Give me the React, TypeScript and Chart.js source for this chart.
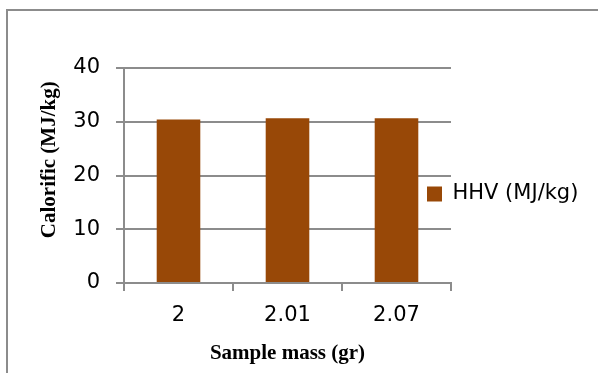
import React, { useEffect, useRef } from "react";
import { Chart, registerables } from "chart.js";

Chart.register(...registerables);

const categories = ["2", "2.01", "2.07"];
const hhvValues = [30.42, 30.66, 30.65];
const seriesLabel = "HHV (MJ/kg)";
const yTickMin = 0;
const yTickMax = 40;
const yTickStep = 10;
const xTitle = "Sample mass (gr)";
const yTitle = "Calorific (MJ/kg)";

const BAR_COLOR = "#984807";
const GRID_COLOR = "#8c8c8c";
const SANS = "'DejaVu Sans', sans-serif";
const SERIF = "'Liberation Serif', 'Times New Roman', serif";

// Excel-style legend: the key square sits just inside the plot's right edge
const legendOverlap = {
  id: "legendOverlap",
  afterLayout(chart: any) {
    const lg = chart.legend;
    if (lg && chart.chartArea) {
      lg.left = chart.chartArea.right - 24;
    }
  },
};

export default function App() {
  const canvasRef = useRef<HTMLCanvasElement | null>(null);

  useEffect(() => {
    const canvas = canvasRef.current;
    if (!canvas) return;
    const chart = new Chart(canvas, {
      type: "bar",
      data: {
        labels: categories,
        datasets: [
          {
            label: seriesLabel,
            data: hhvValues,
            backgroundColor: BAR_COLOR,
            borderWidth: 0,
            barPercentage: 0.4,
            categoryPercentage: 1,
          },
        ],
      },
      plugins: [legendOverlap],
      options: {
        responsive: false,
        animation: false,
        devicePixelRatio: 1,
        layout: { padding: { left: 0, top: 68, right: 0, bottom: 0 } },
        plugins: {
          tooltip: { enabled: false },
          legend: {
            display: true,
            position: "right",
            fullSize: false,
            align: "center",
            maxWidth: 147,
            title: {
              display: true,
              text: "",
              font: { size: 10, lineHeight: 1 },
              padding: { top: 27, bottom: 0 },
            },
            labels: {
              boxWidth: 15,
              boxHeight: 15,
              padding: 0,
              color: "#000",
              font: { family: SANS, size: 21 },
            },
          },
        },
        scales: {
          x: {
            offset: true,
            grid: {
              display: true,
              drawOnChartArea: false,
              drawTicks: true,
              tickLength: 8,
              color: GRID_COLOR,
              lineWidth: 2,
              offset: true,
            },
            border: { display: true, color: GRID_COLOR, width: 2 },
            ticks: {
              color: "#000",
              padding: 12,
              font: { family: SANS, size: 21 },
              maxRotation: 0,
            },
            title: {
              display: true,
              text: xTitle,
              color: "#000",
              font: { family: SERIF, size: 21, weight: "bold" },
              padding: { top: 0, bottom: 7 },
            },
            afterFit: (scale: any) => {
              scale.height = 90;
            },
          },
          y: {
            min: yTickMin,
            max: yTickMax,
            grid: {
              color: GRID_COLOR,
              lineWidth: 2,
              drawTicks: true,
              tickLength: 8,
            },
            border: { display: true, color: GRID_COLOR, width: 2 },
            ticks: {
              stepSize: yTickStep,
              color: "#000",
              padding: 16,
              font: { family: SANS, size: 21 },
            },
            title: {
              display: true,
              text: "      " + yTitle,
              color: "#000",
              font: { family: SERIF, size: 21, weight: "bold" },
              padding: { top: 37, bottom: 0 },
            },
            afterFit: (scale: any) => {
              scale.width = 124;
            },
          },
        },
      },
    });
    return () => chart.destroy();
  }, []);

  return (
    <div
      style={{
        position: "fixed",
        left: 0,
        top: 0,
        width: 598,
        height: 373,
        overflow: "hidden",
        background: "#fff",
      }}
    >
      <canvas ref={canvasRef} width={598} height={373} style={{ position: "absolute", left: 0, top: 0 }} />
      <div
        style={{
          position: "absolute",
          left: 6,
          top: 9,
          width: 700,
          height: 500,
          border: "2px solid #8c8c8c",
          pointerEvents: "none",
        }}
      />
    </div>
  );
}
